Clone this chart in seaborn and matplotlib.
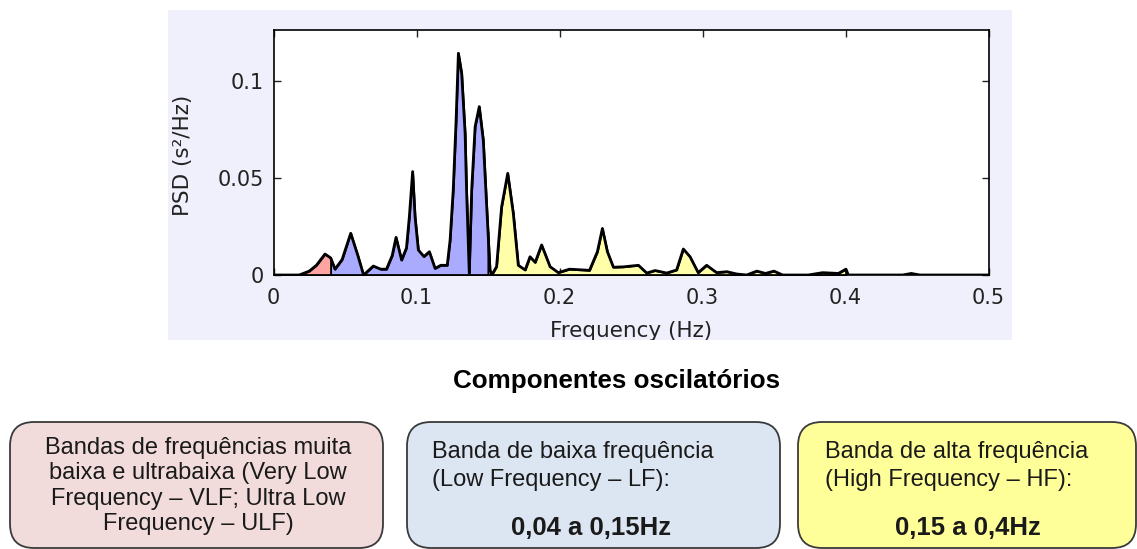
import numpy as np
import pandas as pd
import seaborn as sns
import matplotlib
matplotlib.use("Agg")
import matplotlib.pyplot as plt
from matplotlib.patches import FancyBboxPatch, Rectangle
from matplotlib.transforms import Bbox, TransformedBbox

# ---------------- data ----------------
freq = [0.0, 0.018, 0.025, 0.030, 0.036, 0.040, 0.043, 0.048, 0.054, 0.059, 0.063,
        0.0698, 0.075, 0.079, 0.083, 0.0857, 0.0896, 0.093, 0.095, 0.0973, 0.099,
        0.1013, 0.1052, 0.109, 0.113, 0.117, 0.1215, 0.1235, 0.1257, 0.1276, 0.1293,
        0.1316, 0.134, 0.135, 0.1369, 0.1386, 0.141, 0.1439, 0.1467, 0.1491, 0.1514,
        0.1526, 0.156, 0.1595, 0.1638, 0.1677, 0.1712, 0.176, 0.1794, 0.183, 0.1875,
        0.1934, 0.1992, 0.207, 0.221, 0.2265, 0.230, 0.2335, 0.2377, 0.2447, 0.2552,
        0.261, 0.2668, 0.275, 0.2819, 0.2866, 0.2913, 0.297, 0.3029, 0.3099, 0.317,
        0.324, 0.3309, 0.338, 0.344, 0.350, 0.356, 0.374, 0.384, 0.395, 0.4003, 0.402,
        0.44, 0.446, 0.452, 0.5]
psd = [0.0, 0.0, 0.002, 0.005, 0.0108, 0.0088, 0.003, 0.008, 0.0215, 0.010, 0.0,
       0.0046, 0.003, 0.003, 0.010, 0.0194, 0.0077, 0.014, 0.030, 0.0533, 0.030,
       0.0129, 0.0095, 0.012, 0.0034, 0.005, 0.005, 0.018, 0.044, 0.078, 0.1143,
       0.1039, 0.073, 0.044, 0.001, 0.044, 0.0765, 0.0868, 0.0696, 0.0352, 0.0026,
       0.0, 0.0043, 0.035, 0.0524, 0.0318, 0.005, 0.0026, 0.0094, 0.0065, 0.0155,
       0.0043, 0.0012, 0.003, 0.0024, 0.012, 0.024, 0.012, 0.004, 0.0042, 0.005,
       0.001, 0.0023, 0.001, 0.0026, 0.0134, 0.0094, 0.0012, 0.005, 0.0012, 0.0017,
       0.0005, 0.0, 0.002, 0.0008, 0.002, 0.0, 0.0, 0.0012, 0.0008, 0.003, 0.0,
       0.0, 0.0008, 0.0, 0.0]

band_lo = [0.0, 0.04, 0.15]
band_hi = [0.04, 0.15, 0.40]
band_colors = ["#FFA3A3", "#AAAAFF", "#FFFFAA"]

x_ticks = [0.0, 0.1, 0.2, 0.3, 0.4, 0.5]
x_tick_labels = ["0", "0.1", "0.2", "0.3", "0.4", "0.5"]
y_ticks = [0.0, 0.05, 0.1]
y_tick_labels = ["0", "0.05", "0.1"]

x_label = "Frequency (Hz)"
y_label = "PSD (s²/Hz)"
title = "Componentes oscilatórios"

box1_text = "Bandas de frequências muita\nbaixa e ultrabaixa (Very Low\nFrequency – VLF; Ultra Low\nFrequency – ULF)"
box2_text = "Banda de baixa frequência\n(Low Frequency – LF):"
box2_bold = "0,04 a 0,15Hz"
box3_text = "Banda de alta frequência\n(High Frequency – HF):"
box3_bold = "0,15 a 0,4Hz"

# ---------------- figure ----------------
sns.set_style("ticks")
plt.rcParams["font.family"] = ["DejaVu Sans"]

W, H = 1137, 549
fig = plt.figure(figsize=(W / 100, H / 100), dpi=100)
fig.patch.set_facecolor("white")

bg = fig.add_axes([0, 0, 1, 1], zorder=0)
bg.set_xlim(0, W)
bg.set_ylim(H, 0)
bg.axis("off")
bg.add_patch(Rectangle((168, 10), 844, 330, facecolor="#F0F0FC", edgecolor="none"))

ax = fig.add_axes([273.5 / W, 1 - 275 / H, 715 / W, 245 / H], zorder=1)
ax.set_facecolor("white")

df = pd.DataFrame({"f": freq, "psd": psd})
f_arr = np.array(freq)
p_arr = np.array(psd)
for lo, hi, col in zip(band_lo, band_hi, band_colors):
    inner = f_arr[(f_arr > lo) & (f_arr < hi)]
    xs = np.concatenate([[lo], inner, [hi]])
    ys = np.interp(xs, f_arr, p_arr)
    ax.fill_between(xs, 0, ys, facecolor=col, edgecolor="black", linewidth=1.2, zorder=2)

sns.lineplot(data=df, x="f", y="psd", ax=ax, color="black", linewidth=2.0,
             sort=False, zorder=3, estimator=None)

ax.set_xlim(0, 0.5)
ax.set_ylim(0, 0.1263)
ax.set_xticks(x_ticks)
ax.set_xticklabels(x_tick_labels)
ax.set_yticks(y_ticks)
ax.set_yticklabels(y_tick_labels)
ax.tick_params(direction="in", length=5, width=1, top=True, right=True,
               labelsize=15, colors="#222222")
ax.tick_params(axis="x", pad=9)
ax.tick_params(axis="y", pad=7)
for s in ax.spines.values():
    s.set_visible(True)
    s.set_color("black")
    s.set_linewidth(1.2)
ax.set_xlabel("")
ax.set_ylabel("")

# axis labels (x label clipped at the panel edge like the reference)
xl = bg.text(631, 337, x_label, ha="center", va="baseline", fontsize=15.5, color="#222222")
xl.set_clip_box(TransformedBbox(Bbox.from_extents(0, 1 - 340 / H, 1, 1), fig.transFigure))
xl.set_clip_on(True)
bg.text(183, 155, y_label, ha="center", va="center", rotation=90, fontsize=15.5, color="#222222")

# title
bg.text(617, 381, title, ha="center", va="center", fontsize=18.7, fontweight="bold",
        family=["Liberation Sans", "DejaVu Sans"], color="black")

# boxes
boxes = [(10, 373, "#F2DCDB"), (407, 373, "#DCE6F2"), (798, 338, "#FFFF99")]
for x0, w, col in boxes:
    bg.add_patch(FancyBboxPatch((x0, 422), w, 126,
                                boxstyle="round,pad=0,rounding_size=24",
                                facecolor=col, edgecolor="#3A3A3A", linewidth=1.3))

tf = ["Liberation Sans", "DejaVu Sans"]
bg.text(198, 486, box1_text, ha="center", va="center", multialignment="center",
        fontsize=17, family=tf, color="#1a1a1a", linespacing=1.2)
bg.text(432, 466, box2_text, ha="left", va="center", fontsize=17, family=tf,
        color="#1a1a1a", linespacing=1.32)
bg.text(591, 528, box2_bold, ha="center", va="center", fontsize=18.5, family=tf,
        fontweight="bold", color="#1a1a1a")
bg.text(825, 466, box3_text, ha="left", va="center", fontsize=17, family=tf,
        color="#1a1a1a", linespacing=1.32)
bg.text(968, 528, box3_bold, ha="center", va="center", fontsize=18.5, family=tf,
        fontweight="bold", color="#1a1a1a")

fig.savefig("out.png", dpi=100)
